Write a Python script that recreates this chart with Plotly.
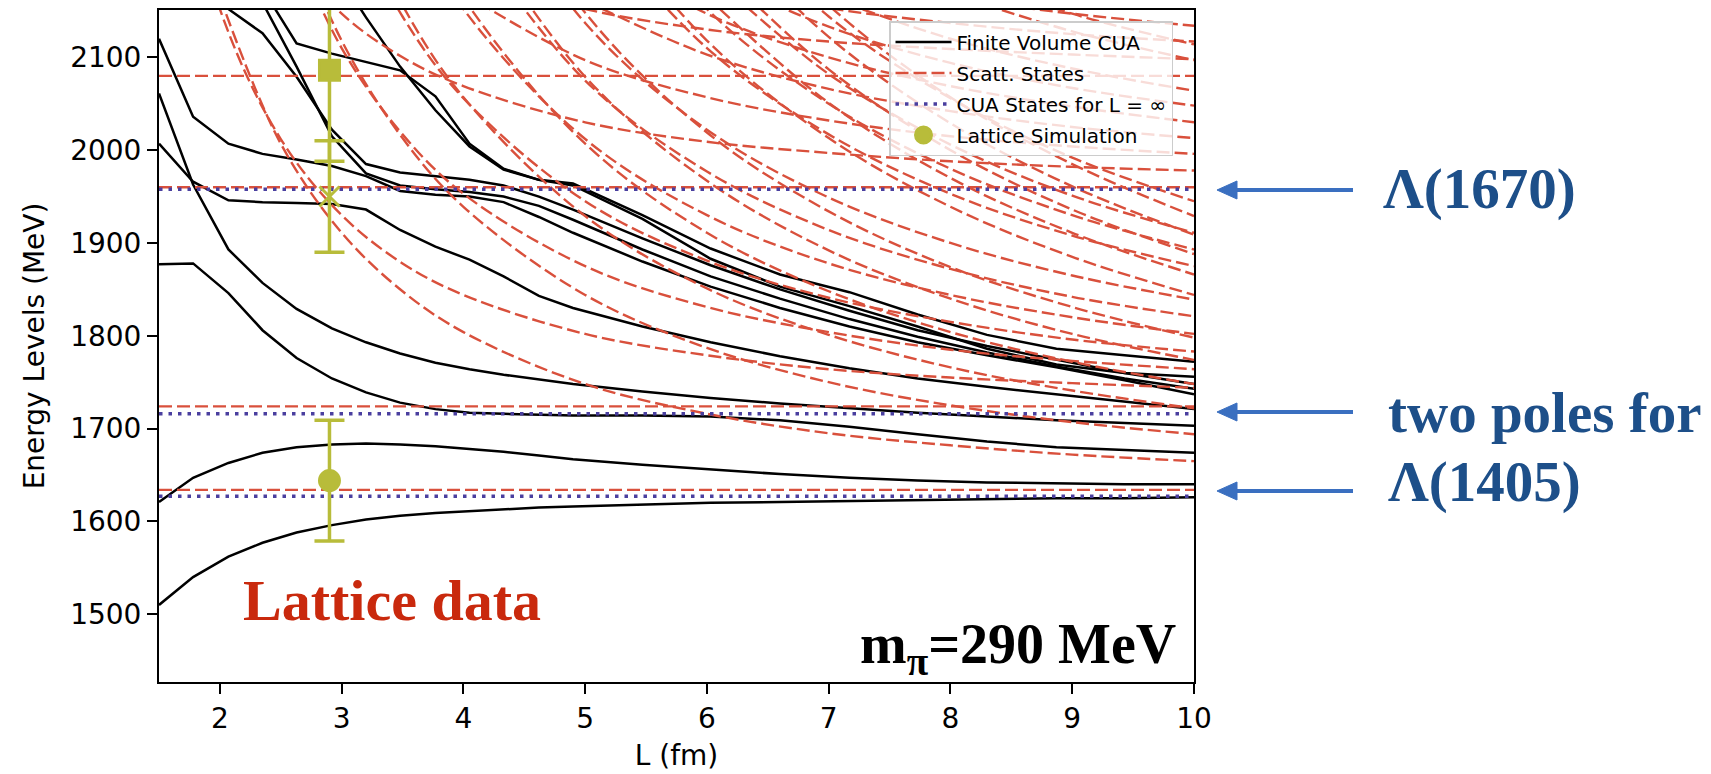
import plotly.graph_objects as go

# ---------------- data ----------------
# Finite volume CUA levels (black solid), sampled on a common L grid (fm)
L_FV = [1.5, 1.78, 2.07, 2.35, 2.63, 2.92, 3.2, 3.48, 3.77, 4.05, 4.33, 4.62, 4.9,
        5.47, 6.03, 6.6, 7.17, 7.73, 8.3, 8.87, 9.43, 10.0]
fv_A = [1510, 1540, 1562, 1577, 1588, 1596, 1602, 1606, 1609, 1611, 1613, 1615, 1616,
        1618, 1620, 1621, 1622, 1623, 1624, 1625, 1625, 1626]
fv_B = [1621, 1647, 1663, 1674, 1680, 1683, 1684, 1683, 1681, 1678, 1675, 1671, 1667,
        1661, 1656, 1651, 1647, 1644, 1642, 1641, 1640, 1640]
fv_C = [1877, 1878, 1846, 1806, 1776, 1754, 1739, 1728, 1721, 1717, 1716, 1715, 1714,
        1714, 1713, 1709, 1702, 1694, 1686, 1680, 1677, 1674]
fv_E = [2061, 1963, 1893, 1857, 1829, 1808, 1793, 1781, 1771, 1764, 1758, 1753, 1748,
        1740, 1733, 1727, 1722, 1717, 1713, 1709, 1706, 1703]
fv_F = [2007, 1966, 1946, 1944, 1943, 1942, 1936, 1914, 1896, 1882, 1864, 1843, 1830,
        1810, 1793, 1778, 1765, 1754, 1745, 1737, 1729, 1721]
fv_D = [2120, 2036, 2007, 1996, 1990, 1983, 1972, 1956, 1952, 1950, 1944, 1928, 1911,
        1880, 1853, 1830, 1810, 1793, 1779, 1766, 1752, 1737]
fv_H = [None, None, 2233, 2159, 2090, 2015, 1975, 1962, 1958, 1955, 1950, 1940, 1925,
        1893, 1864, 1840, 1818, 1799, 1782, 1767, 1754, 1743]
fv_G = [None, 2180, 2152, 2126, 2079, 2022, 1985, 1976, 1972, 1968, 1962, 1950, 1936,
        1905, 1876, 1850, 1827, 1806, 1789, 1774, 1760, 1748]
fv_J = [None, None, None, None, None, 2200, 2143, 2090, 2043, 2004, 1979, 1968, 1962,
        1926, 1883, 1853, 1832, 1810, 1786, 1769, 1760, 1756]
fv_I = [None, None, None, 2174, 2115, 2104, 2095, 2086, 2058, 2007, 1980, 1968, 1964,
        1930, 1894, 1866, 1847, 1823, 1801, 1786, 1779, 1772]
FV_LEVELS = [fv_A, fv_B, fv_C, fv_E, fv_F, fv_D, fv_H, fv_G, fv_J, fv_I]

# Scattering states (red dashed), on a common L grid (fm)
L_SC = [1.5, 2, 2.5, 3, 3.5, 4, 5, 6, 7, 8, 9, 10]
N = None
sc_pS = [
    [N, 2165, 2007, 1911, 1848, 1804, 1748, 1716, 1695, 1682, 1672, 1665],
    [N, N, 2275, 2118, 2013, 1939, 1844, 1787, 1750, 1725, 1707, 1694],
    [N, N, N, 2295, 2156, 2057, 1929, 1851, 1801, 1766, 1741, 1722],
    [N, N, N, N, 2285, 2164, 2007, 1911, 1848, 1804, 1772, 1748],
    [N, N, N, N, N, 2263, 2079, 1967, 1892, 1840, 1802, 1774],
    [N, N, N, N, N, 2356, 2148, 2019, 1934, 1874, 1831, 1798],
    [N, N, N, N, N, N, 2275, 2118, 2013, 1939, 1885, 1844],
    [N, N, N, N, N, N, N, 2165, 2051, 1970, 1911, 1866],
    [N, N, N, N, N, N, N, 2209, 2087, 2000, 1936, 1888],
    [N, N, N, N, N, N, N, 2253, 2122, 2029, 1961, 1909],
    [N, N, N, N, N, N, N, 2295, 2156, 2057, 1985, 1929],
]
sc_KN = [
    [2423, 2152, 2012, 1930, 1878, 1844, 1802, 1779, 1764, 1755, 1749, 1744],
    [N, N, 2254, 2110, 2017, 1953, 1875, 1831, 1804, 1785, 1773, 1764],
    [N, N, N, 2273, 2144, 2056, 1945, 1881, 1841, 1815, 1796, 1783],
    [N, N, N, N, 2263, 2152, 2012, 1930, 1878, 1844, 1820, 1802],
    [N, N, N, N, N, 2243, 2075, 1977, 1914, 1872, 1842, 1821],
    [N, N, N, N, N, 2331, 2137, 2022, 1949, 1900, 1865, 1839],
    [N, N, N, N, N, N, 2254, 2110, 2017, 1953, 1908, 1875],
    [N, N, N, N, N, N, 2310, 2152, 2050, 1980, 1930, 1893],
    [N, N, N, N, N, N, N, 2193, 2082, 2006, 1951, 1911],
    [N, N, N, N, N, N, N, 2273, 2144, 2056, 1992, 1945],
]
sc_eL = [
    [N, N, 2223, 2147, 2100, 2069, 2030, 2009, 1997, 1988, 1982, 1978],
    [N, N, N, N, N, 2169, 2097, 2057, 2032, 2015, 2004, 1996],
    [N, N, N, N, N, N, 2161, 2103, 2066, 2042, 2025, 2013],
    [N, N, N, N, N, N, 2223, 2147, 2100, 2069, 2047, 2030],
    [N, N, N, N, N, N, N, 2191, 2133, 2094, 2067, 2048],
    [N, N, N, N, N, N, N, N, 2165, 2120, 2088, 2064],
    [N, N, N, N, N, N, N, N, N, 2169, 2128, 2097],
    [N, N, N, N, N, N, N, N, N, 2193, 2147, 2114],
]
sc_KX = [
    [N, N, N, N, N, 2190, 2152, 2130, 2117, 2109, 2103, 2098],
    [N, N, N, N, N, N, N, 2179, 2153, 2137, 2125, 2117],
    [N, N, N, N, N, N, N, N, N, 2164, 2147, 2134],
]
THRESHOLDS = [1634, 1724, 1960, 2080]        # n = 0 scattering states
CUA_POLES = [1627, 1716, 1958]               # CUA states for L = infinity

# Lattice simulation
L_LAT = [2.9, 2.9, 2.9]
E_LAT = [1644, 1950, 2086]
ERR_LAT = [65, 60, 98]
SYM_LAT = ["circle", "x-thin", "square"]

X_TICKS = [2, 3, 4, 5, 6, 7, 8, 9, 10]
Y_TICKS = [1500, 1600, 1700, 1800, 1900, 2000, 2100]

# ---------------- styles ----------------
BLACK = "#000000"
RED = "#d9503c"
BLUE = "#4a3f9f"
OLIVE = "#b8bc3a"
X_RANGE = [1.5, 10]
Y_RANGE = [1427, 2151]
RED_DASH = "13px,5px"

fig = go.Figure()

# black solid finite-volume levels
for i, lev in enumerate(FV_LEVELS):
    fig.add_trace(go.Scatter(
        x=L_FV, y=lev, mode="lines",
        line=dict(color=BLACK, width=2.5),
        name="Finite Volume CUA", legendgroup="fv", showlegend=(i == 0),
        legendrank=1, hoverinfo="skip"))

# red dashed scattering states: thresholds (n = 0) carry the legend entry
for i, t in enumerate(THRESHOLDS):
    fig.add_trace(go.Scatter(
        x=X_RANGE, y=[t, t], mode="lines",
        line=dict(color=RED, width=2.4, dash=RED_DASH),
        name="Scatt. States", legendgroup="sc", showlegend=(i == 0),
        legendrank=2, hoverinfo="skip"))
for fam in (sc_pS, sc_KN, sc_eL, sc_KX):
    for curve in fam:
        fig.add_trace(go.Scatter(
            x=L_SC, y=curve, mode="lines",
            line=dict(color=RED, width=2.4, dash=RED_DASH, shape="spline"),
            connectgaps=False,
            name="Scatt. States", legendgroup="sc", showlegend=False,
            hoverinfo="skip"))

# blue dotted CUA states for L = inf
for i, p in enumerate(CUA_POLES):
    fig.add_trace(go.Scatter(
        x=X_RANGE, y=[p, p], mode="lines",
        line=dict(color=BLUE, width=3.5, dash="3.5px,6px"),
        name="CUA States for L = ∞", legendgroup="cua", showlegend=(i == 0),
        legendrank=3, hoverinfo="skip"))

# lattice simulation points
for i in range(len(L_LAT)):
    fig.add_trace(go.Scatter(
        x=[L_LAT[i]], y=[E_LAT[i]], mode="markers",
        marker=dict(color=OLIVE, size=20, symbol=SYM_LAT[i],
                    line=dict(color=OLIVE, width=3)),
        error_y=dict(type="data", array=[ERR_LAT[i]], color=OLIVE,
                     thickness=3.5, width=15),
        name="Lattice Simulation", legendgroup="lat", showlegend=(i == 0),
        legendrank=4, hoverinfo="skip"))

# ---------------- layout ----------------
W, H = 1711, 774
ML, MR, MT, MB = 159, 517, 10, 92
PW, PH = W - ML - MR, H - MT - MB


def px(xp):
    return (xp - ML) / PW


def py(yp):
    return (H - MB - yp) / PH


axis_font = dict(family="DejaVu Sans", size=28, color="black")
fig.update_layout(
    width=W, height=H,
    margin=dict(l=ML, r=MR, t=MT, b=MB, autoexpand=False),
    paper_bgcolor="white", plot_bgcolor="white",
    showlegend=True,
    legend=dict(
        x=px(1173), y=py(21), xanchor="right", yanchor="top",
        bgcolor="rgba(255,255,255,0.8)", bordercolor="#cccccc", borderwidth=1.5,
        font=dict(family="DejaVu Sans", size=20, color="black"),
        tracegroupgap=2, itemwidth=56),
    xaxis=dict(
        range=X_RANGE, tickvals=X_TICKS, ticks="outside", ticklen=10, tickwidth=2,
        tickcolor="black", showline=True, linewidth=2, linecolor="black",
        mirror=True, showgrid=False, zeroline=False, tickfont=axis_font,
        title=dict(text="L (fm)", font=axis_font, standoff=12), automargin=False),
    yaxis=dict(
        range=Y_RANGE, tickvals=Y_TICKS, ticks="outside", ticklen=10, tickwidth=2,
        tickcolor="black", showline=True, linewidth=2, linecolor="black",
        mirror=True, showgrid=False, zeroline=False, tickfont=axis_font,
        title=dict(text="Energy Levels (MeV)", font=axis_font, standoff=17),
        automargin=False),
)

serif = "Liberation Serif"
ann = []
ann.append(dict(x=px(392), y=py(600), xref="paper", yref="paper",
                text="<b>Lattice data</b>", showarrow=False, xanchor="center",
                yanchor="middle", font=dict(family=serif, size=58, color="#c9290d")))
ann.append(dict(x=px(1178), y=py(648), xref="paper", yref="paper",
                text="<b>m<sub>π</sub>=290 MeV</b>", showarrow=False, xanchor="right",
                yanchor="middle", font=dict(family=serif, size=56, color="black")))
DARKBLUE = "#1d4f89"
for txt, xp, yp in [("Λ(1670)", 1381, 189), ("two poles for", 1386, 412),
                    ("Λ(1405)", 1386, 482)]:
    ann.append(dict(x=px(xp), y=py(yp), xref="paper", yref="paper",
                    text="<b>" + txt + "</b>", showarrow=False, xanchor="left",
                    yanchor="middle", font=dict(family=serif, size=57, color=DARKBLUE)))
fig.update_layout(annotations=ann)

# pointer arrows (shaft + triangular head) drawn as layout shapes
ARROW_C = "#3a6fc0"
shapes = []
for yp in [190, 412, 491]:
    shapes.append(dict(type="line", xref="paper", yref="paper",
                       x0=px(1233), x1=px(1353), y0=py(yp), y1=py(yp),
                       line=dict(color=ARROW_C, width=4)))
    path = "M {:.5f} {:.5f} L {:.5f} {:.5f} L {:.5f} {:.5f} Z".format(
        px(1217), py(yp), px(1237), py(yp - 9), px(1237), py(yp + 9))
    shapes.append(dict(type="path", xref="paper", yref="paper", path=path,
                       fillcolor=ARROW_C, line=dict(color=ARROW_C, width=1)))
fig.update_layout(shapes=shapes)

fig.write_html("out.html")
